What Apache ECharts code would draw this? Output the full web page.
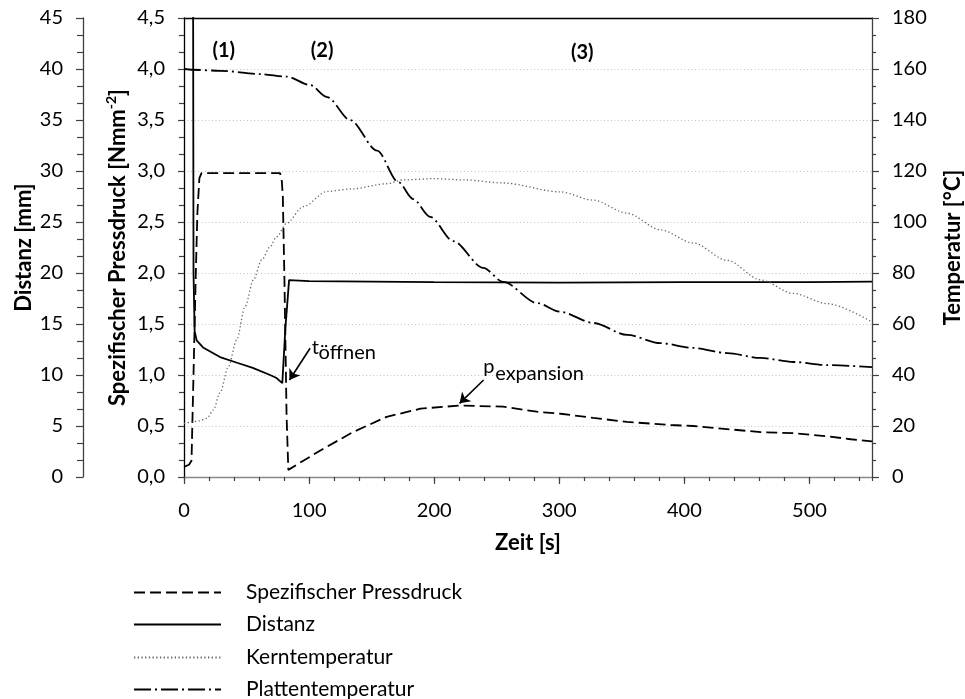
<!DOCTYPE html>
<html>
<head>
<meta charset="utf-8">
<script src="https://cdn.jsdelivr.net/npm/echarts@6/dist/echarts.min.js"></script>
<style>
html,body{margin:0;padding:0;background:#fff;}
#chart{width:965px;height:699px;}
</style>
</head>
<body>
<div id="chart"></div>
<script>
// ---- data ----
const seriesNames = ['Spezifischer Pressdruck', 'Distanz', 'Kerntemperatur', 'Plattentemperatur'];

const tPress = [0,4,6,7.5,9.3,10.7,12.3,14,20,40,60,76.8,78.2,79,80.3,82,83.4,90,109,135,162,189,220,255,282,301,327,354,389,407,434,461,487,514,533,550];
const press  = [0.10,0.12,0.16,0.95,1.93,2.59,2.93,2.98,2.98,2.98,2.98,2.98,2.90,2.75,1.93,0.60,0.07,0.12,0.26,0.44,0.59,0.67,0.70,0.69,0.64,0.62,0.58,0.54,0.51,0.50,0.47,0.44,0.43,0.40,0.37,0.35];

const tDist = [0,7,7.6,8.5,10.1,15.2,28.8,42.4,55,68.8,74,78.6,81,84,100,200,300,400,500,550];
const dist  = [70,70,20,14.3,13.4,12.7,11.76,11.2,10.7,10.0,9.7,9.2,14.5,19.3,19.2,19.1,19.05,19.1,19.1,19.15];

const tKern = [0,6.4,12,18.4,23.5,28.8,35.5,42.1,48.8,55.5,62.1,68.8,74,82,95.2,114.4,135,162,175,200,225,255,301,327,354,381,407,434,461,487,514,550];
const kern  = [21,21.6,22,23,26.3,33,43.3,53.7,66.8,77.3,85.1,90.3,94.2,99.5,106,112,113,115,116.5,117,116.5,115.3,111.8,108.6,103.5,96.9,91.8,85,77.3,72,68,60.8];

const tPlatte = [0,7,28.8,60.8,82.4,100.8,114.4,132.8,154.4,171.2,183.2,196.8,215.2,239.2,255.2,282.4,300.8,327.2,354.4,380.8,407.2,434.4,460.8,487.2,514.4,550];
const platte  = [160,159.7,159.3,158,157,153.7,149,140,128,115.7,109,102,92.5,82,76.5,68.2,64.8,60.4,55.7,52.5,50.6,48.6,46.7,45.1,43.9,43.1];

// annotations (text, time, pressure)
const annoText  = ['(1)', '(2)', '(3)', 't', 'öffnen', 'p', 'expansion'];
const annoT     = [31.8, 110.4, 318.4, 102.2, 107.6, 239.2, 248.8];
const annoP     = [4.18, 4.18, 4.16, 1.274, 1.225, 1.078, 1.01];
// arrows: from (t,p) to (t,p)
const arrowFromT = [100.8, 239.5];
const arrowFromP = [1.262, 0.951];
const arrowToT   = [84.3, 220.3];
const arrowToP   = [0.951, 0.722];

const zip = (a, b) => a.map((v, i) => [v, b[i]]);
const FONT = 'Lato';
const FS = 20;
const FS_NAME = 22;
const FS_LEG = 21;
const legendRowCenter = [592, 624, 657, 689];

const markPointData = annoText.map((txt, i) => ({
  name: txt,
  coord: [annoT[i], annoP[i]],
  label: {
    fontWeight: i < 3 ? 'bold' : 'normal',
    align: i < 3 ? 'center' : 'left'
  }
}));
const markLineData = arrowFromT.map((v, i) => [
  { coord: [arrowFromT[i], arrowFromP[i]] },
  { coord: [arrowToT[i], arrowToP[i]] }
]);

const chart = echarts.init(document.getElementById('chart'), null, { renderer: 'canvas' });

const axisNameStyle = { fontFamily: FONT, fontSize: FS_NAME, fontWeight: 'bold', color: '#000' };
const labelStyle = { fontFamily: FONT, fontSize: FS, color: '#000' };

const legends = seriesNames.map((n, i) => ({
  orient: 'vertical', left: 133, top: legendRowCenter[i] - 10, padding: 0,
  itemWidth: 87, itemHeight: 20,
  data: [n],
  itemStyle: { color: 'transparent', borderColor: 'transparent', borderWidth: 0, opacity: 0 },
  textStyle: { fontFamily: FONT, fontSize: FS_LEG, color: '#000', lineHeight: 20, padding: [0, 0, 0, 20] }
}));

const option = {
  animation: false,
  textStyle: { fontFamily: FONT },
  grid: { left: 184, right: 93, top: 18, bottom: 222, containLabel: false, outerBoundsMode: 'none' },
  xAxis: [
    {
      type: 'value', position: 'bottom', min: 0, max: 550, interval: 100,
      axisLine: { show: true, onZero: false, lineStyle: { color: '#898989', width: 1.3 } },
      axisTick: { show: true, length: 7, lineStyle: { color: '#404040', width: 1.2 } },
      splitLine: { show: false },
      axisLabel: Object.assign({ margin: 24, showMaxLabel: false }, labelStyle),
      name: 'Zeit [s]', nameLocation: 'middle', nameGap: 55, nameMoveOverlap: false,
      nameTextStyle: axisNameStyle
    },
    {
      type: 'value', position: 'bottom', min: 0, max: 550, interval: 20,
      axisLine: { show: false, onZero: false },
      axisTick: { show: true, length: 4, lineStyle: { color: '#404040', width: 1.2 } },
      splitLine: { show: false },
      axisLabel: { show: false }
    },
    {
      type: 'value', position: 'top', min: 0, max: 550,
      axisLine: { show: true, onZero: false, lineStyle: { color: '#000', width: 1.3 } },
      axisTick: { show: false },
      splitLine: { show: false },
      axisLabel: { show: false }
    }
  ],
  yAxis: [
    {
      type: 'value', position: 'left', min: 0, max: 4.5, interval: 0.5,
      axisLine: { show: true, onZero: false, lineStyle: { color: '#000', width: 1.3 } },
      axisTick: { show: true, length: 6, lineStyle: { color: '#404040', width: 1.2 } },
      minorTick: { show: true, splitNumber: 3, length: 5, lineStyle: { color: '#404040', width: 1.2 } },
      splitLine: { show: true, lineStyle: { color: '#c4c4c4', type: [1, 2.5], width: 1 } },
      axisLabel: Object.assign({ margin: 19, formatter: v => v.toFixed(1).replace('.', ',') }, labelStyle),
      name: 'Spezifischer Pressdruck [Nmm{sup|-2}]', nameLocation: 'middle', nameGap: 52, nameRotate: 90, nameMoveOverlap: false,
      nameTextStyle: Object.assign({ lineHeight: 28, rich: { sup: { fontFamily: FONT, fontSize: 14, fontWeight: 'bold', color: '#000', verticalAlign: 'top', lineHeight: 14 } } }, axisNameStyle)
    },
    {
      type: 'value', position: 'left', offset: 101, min: 0, max: 45, interval: 5,
      axisLine: { show: true, onZero: false, lineStyle: { color: '#404040', width: 1.3 } },
      axisTick: { show: true, length: 7, lineStyle: { color: '#404040', width: 1.2 } },
      minorTick: { show: true, splitNumber: 3, length: 6, lineStyle: { color: '#404040', width: 1.2 } },
      splitLine: { show: false },
      axisLabel: Object.assign({ margin: 20 }, labelStyle),
      name: 'Distanz [mm]', nameLocation: 'middle', nameGap: 48, nameRotate: 90, nameMoveOverlap: false,
      nameTextStyle: axisNameStyle
    },
    {
      type: 'value', position: 'right', min: 0, max: 180, interval: 20,
      axisLine: { show: true, onZero: false, lineStyle: { color: '#404040', width: 1.3 } },
      axisTick: { show: true, length: 7, lineStyle: { color: '#404040', width: 1.2 } },
      minorTick: { show: true, splitNumber: 3, length: 4, lineStyle: { color: '#404040', width: 1.2 } },
      splitLine: { show: false },
      axisLabel: Object.assign({ margin: 20 }, labelStyle),
      name: 'Temperatur [°C]', nameLocation: 'middle', nameGap: 70, nameRotate: 90, nameMoveOverlap: false,
      nameTextStyle: axisNameStyle
    }
  ],
  legend: legends,
  series: [
    {
      name: seriesNames[0], type: 'line', xAxisIndex: 0, yAxisIndex: 0,
      data: zip(tPress, press), symbol: 'none', showSymbol: false,
      lineStyle: { color: '#000', width: 1.8, type: [11, 5] }, itemStyle: { color: '#000' },
      markPoint: {
        silent: true, symbol: 'circle', symbolSize: 0,
        label: { show: true, position: 'inside', formatter: p => p.name, fontFamily: FONT, fontSize: FS, color: '#000' },
        data: markPointData
      },
      markLine: {
        silent: true, symbol: ['none', 'arrow'], symbolSize: 10, precision: 3,
        lineStyle: { color: '#000', type: 'solid', width: 1.6 },
        label: { show: false },
        data: markLineData
      }
    },
    {
      name: seriesNames[1], type: 'line', xAxisIndex: 0, yAxisIndex: 1,
      data: zip(tDist, dist), symbol: 'none', showSymbol: false,
      lineStyle: { color: '#000', width: 1.8, type: 'solid' }, itemStyle: { color: '#000' }
    },
    {
      name: seriesNames[2], type: 'line', xAxisIndex: 0, yAxisIndex: 2,
      data: zip(tKern, kern), symbol: 'none', showSymbol: false, smooth: 0.3, smoothMonotone: 'x',
      lineStyle: { color: '#666666', width: 1.3, type: [1.3, 2.4] }, itemStyle: { color: '#666666' }
    },
    {
      name: seriesNames[3], type: 'line', xAxisIndex: 0, yAxisIndex: 2,
      data: zip(tPlatte, platte), symbol: 'none', showSymbol: false, smooth: 0.3, smoothMonotone: 'x',
      lineStyle: { color: '#000', width: 1.8, type: [17, 4, 2, 4] }, itemStyle: { color: '#000' }
    }
  ]
};
chart.setOption(option);
</script>
</body>
</html>
